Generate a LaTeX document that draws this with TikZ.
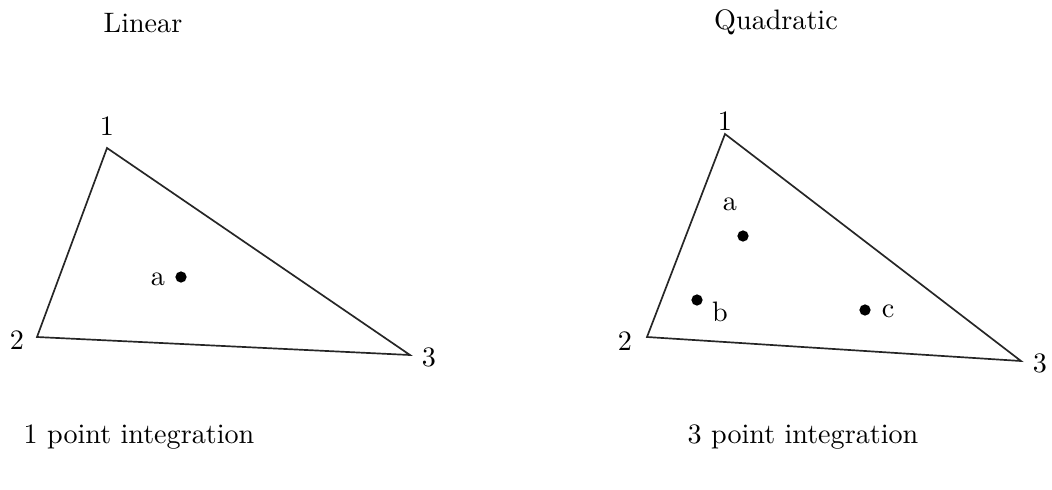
\documentclass[tikz,border=0pt]{standalone}
\usepackage{tikz}
\usetikzlibrary{positioning}

\begin{document}
\begin{tikzpicture}[
		x=0.0125cm, y=-0.0125cm,
		edge/.style={
			draw=black!85, line width=0.6pt,
			line join=miter
		},
		dot/.style={
			circle, fill=black,
			inner sep=0pt, minimum size=4pt
		},
		lbl/.style={
			inner sep=0pt,
			font=\normalsize
		},
		caption/.style={
			inner sep=0pt,
			font=\normalsize
		}
		]
		
		\useasboundingbox (0,0) rectangle (1052,489);
		
		% linker Teil - lineares Element
		\node[caption] (tlin) at (143,23) {Linear};
		\coordinate (L1) at (107,148);
		\coordinate (L2) at (37,337);
		\coordinate (L3) at (410,355);
		\draw[edge] (L1) -- (L2) -- (L3) -- cycle;
		\node[lbl] (nL1) at (107,126) {1};
		\node[lbl] (nL2) at (17,340) {2};
		\node[lbl] (nL3) at (429,357) {3};
		\node[dot] (La) at (181,277) {};
		\node[lbl] (lLa) at (158,279) {a};
		\node[caption] (blin) at (139,437) {1 point integration};
		
		% rechter Teil - quadratisches Element
		\node[caption] (tquad) at (776,22) {Quadratic};
		\coordinate (Q1) at (725,134);
		\coordinate (Q2) at (647,337);
		\coordinate (Q3) at (1021,361);
		\draw[edge] (Q1) -- (Q2) -- (Q3) -- cycle;
		\node[lbl] (nQ1) at (725,121) {1};
		\node[lbl] (nQ2) at (625,341) {2};
		\node[lbl] (nQ3) at (1040,363) {3};
		\node[dot] (Qa) at (743,236) {};
		\node[dot] (Qb) at (697,300) {};
		\node[dot] (Qc) at (865,310) {};
		\node[lbl] (lQa) at (730,204) {a};
		\node[lbl] (lQb) at (720,312) {b};
		\node[lbl] (lQc) at (888,311) {c};
		\node[caption] (bquad) at (803,437) {3 point integration};
		
	\end{tikzpicture}
\end{document}
